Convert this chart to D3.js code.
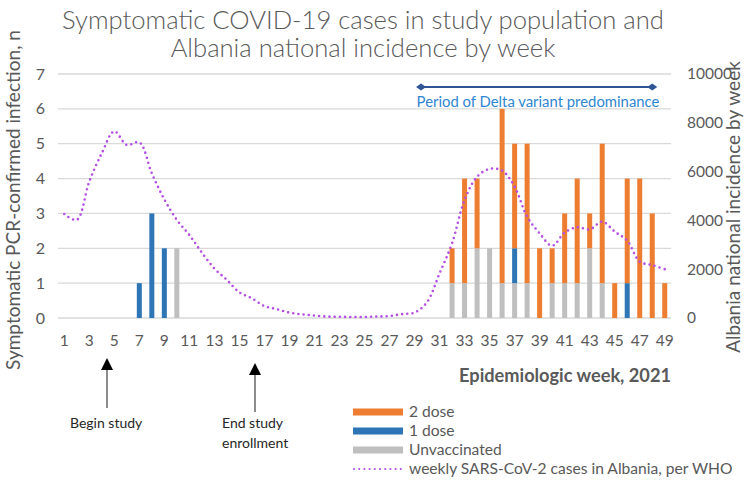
<!DOCTYPE html>
<html>
<head>
<meta charset="utf-8">
<script src="https://cdn.jsdelivr.net/npm/d3@7"></script>
<style>
  html, body { margin: 0; padding: 0; background: #fff; }
  svg { display: block; font-family: Lato, "Open Sans", sans-serif; }
</style>
</head>
<body>
<svg id="chart" width="750" height="480"></svg>
<script>
const weeks = d3.range(1, 50);
const xTickLabels = d3.range(1, 50, 2);
const leftTicks = [0, 1, 2, 3, 4, 5, 6, 7];
const rightTicks = [0, 2000, 4000, 6000, 8000, 10000];

// cases by vaccination status per week (weeks 1..49)
const unvaccinated = [0,0,0,0,0,0,0,0,0,2, 0,0,0,0,0,0,0,0,0,0, 0,0,0,0,0,0,0,0,0,0, 0,1,1,2,2,1,1,1,0,1, 1,1,2,1,0,0,0,0,0];
const oneDose      = [0,0,0,0,0,0,1,3,2,0, 0,0,0,0,0,0,0,0,0,0, 0,0,0,0,0,0,0,0,0,0, 0,0,0,0,0,0,1,0,0,0, 0,0,0,0,0,1,0,0,0];
const twoDose      = [0,0,0,0,0,0,0,0,0,0, 0,0,0,0,0,0,0,0,0,0, 0,0,0,0,0,0,0,0,0,0, 0,1,3,2,0,5,3,4,2,1, 2,3,1,4,1,3,4,3,1];

// weekly national cases (WHO)
const nationalCases = [4260,4020,5590,6750,7650,7090,7200,5930,4860,4020,
  3400,2680,2030,1560,1050,810,490,360,220,150,
  100,60,50,40,40,60,80,160,220,650,
  1830,3060,4840,5790,6110,6040,5380,4150,3470,2960,
  3500,3720,3630,3950,3540,3170,2310,2170,2000];

const seriesNames = ["Unvaccinated", "1 dose", "2 dose"];
const seriesColors = ["#BFBFBF", "#2E75B6", "#ED7D31"];

const svg = d3.select("#chart");
const plot = { left: 58, right: 671, top: 74, bottom: 318 };

const x = d3.scaleBand().domain(weeks).range([plot.left, plot.right]).paddingInner(0.6).paddingOuter(0.3);
const yL = d3.scaleLinear().domain([0, 7]).range([plot.bottom, plot.top]);
const yR = d3.scaleLinear().domain([0, 10000]).range([plot.bottom, plot.top]);

const textColor = "#595959";

// scale a text's font-size so that it spans the target length
function fit(sel, target) {
  const n = sel.node();
  const fs = parseFloat(sel.style("font-size"));
  const len = n.getComputedTextLength();
  if (len > 0) sel.style("font-size", (fs * target / len).toFixed(2) + "px");
  return sel;
}

// gridlines
svg.append("g").selectAll("line").data(leftTicks).join("line")
  .attr("x1", plot.left).attr("x2", plot.right)
  .attr("y1", d => yL(d)).attr("y2", d => yL(d))
  .attr("stroke", "#D9D9D9").attr("stroke-width", 1.3);

// left axis
const leftAxis = svg.append("g").attr("transform", `translate(${plot.left},0)`)
  .call(d3.axisLeft(yL).tickValues(leftTicks).tickFormat(d3.format("d")).tickSize(0).tickPadding(13));
leftAxis.select(".domain").remove();
leftAxis.selectAll("text").attr("fill", textColor).style("font-size", "16px").style("font-family", "Lato, sans-serif");

// right axis
const rightAxis = svg.append("g").attr("transform", `translate(${plot.right},0)`)
  .call(d3.axisRight(yR).tickValues(rightTicks).tickFormat(d3.format("d")).tickSize(0).tickPadding(16));
rightAxis.select(".domain").remove();
rightAxis.selectAll("text").attr("fill", textColor).style("font-size", "15.5px").style("font-family", "Lato, sans-serif");

// bottom axis
const bottomAxis = svg.append("g").attr("transform", `translate(0,${plot.bottom})`)
  .call(d3.axisBottom(x).tickValues(xTickLabels).tickSize(0).tickPadding(17));
bottomAxis.select(".domain").remove();
bottomAxis.selectAll("text").attr("fill", textColor).style("font-size", "15.5px").style("font-family", "Lato, sans-serif");

// stacked bars
const table = weeks.map((w, i) => ({ week: w, "Unvaccinated": unvaccinated[i], "1 dose": oneDose[i], "2 dose": twoDose[i] }));
const stack = d3.stack().keys(seriesNames)(table);
svg.append("g").selectAll("g").data(stack).join("g")
  .attr("fill", (d, i) => seriesColors[i])
  .selectAll("rect").data(d => d.filter(s => s[1] > s[0])).join("rect")
  .attr("x", d => x(d.data.week))
  .attr("width", x.bandwidth())
  .attr("y", d => yL(d[1]))
  .attr("height", d => yL(d[0]) - yL(d[1]));

// national line
const line = d3.line()
  .x((d, i) => x(weeks[i]) + x.bandwidth() / 2)
  .y(d => yR(d))
  .curve(d3.curveCatmullRom.alpha(0.5));
svg.append("path").datum(nationalCases)
  .attr("d", line)
  .attr("fill", "none")
  .attr("stroke", "#B44FE3")
  .attr("stroke-width", 2.6)
  .attr("stroke-linecap", "round")
  .attr("stroke-dasharray", "0 5.2");

// title
const t1 = svg.append("text").attr("x", 363).attr("y", 29).attr("text-anchor", "middle")
  .attr("fill", textColor).style("font-size", "24px").style("font-weight", 300)
  .text("Symptomatic COVID-19 cases in study population and");
fit(t1, 602);
const fsTitle = t1.style("font-size");
svg.append("text").attr("x", 363).attr("y", 57).attr("text-anchor", "middle")
  .attr("fill", textColor).style("font-size", fsTitle).style("font-weight", 300)
  .text("Albania national incidence by week");

// axis titles
const yl = svg.append("text").attr("transform", "translate(20,200) rotate(-90)")
  .attr("text-anchor", "middle").attr("fill", textColor).style("font-size", "17px")
  .text("Symptomatic PCR-confirmed infection, n");
fit(yl, 340);
const yr = svg.append("text").attr("transform", "translate(740,207) rotate(-90)")
  .attr("text-anchor", "middle").attr("fill", textColor).style("font-size", "17px")
  .text("Albania national incidence by week");
fit(yr, 292);
const xt = svg.append("text").attr("x", 671).attr("y", 382).attr("text-anchor", "end")
  .attr("fill", textColor).style("font-size", "17px").style("font-weight", 700)
  .text("Epidemiologic week, 2021");
fit(xt, 212);

// delta period annotation
const deltaY = 87;
const dx1 = x(30) + x.bandwidth() / 2 - 6, dx2 = x(48) + x.bandwidth() / 2;
svg.append("line").attr("x1", dx1).attr("x2", dx2).attr("y1", deltaY).attr("y2", deltaY)
  .attr("stroke", "#2F5597").attr("stroke-width", 2);
[dx1, dx2].forEach(px => {
  svg.append("path").attr("d", `M${px - 5},${deltaY} L${px},${deltaY - 3.5} L${px + 5},${deltaY} L${px},${deltaY + 3.5} Z`)
    .attr("fill", "#2F5597");
});
const dt = svg.append("text").attr("x", 538).attr("y", 107).attr("text-anchor", "middle")
  .attr("fill", "#2E86D1").style("font-size", "14px")
  .text("Period of Delta variant predominance");
fit(dt, 243);

// arrows
function arrow(px, yTop, yBot) {
  svg.append("line").attr("x1", px).attr("x2", px).attr("y1", yTop + 10).attr("y2", yBot)
    .attr("stroke", "#404040").attr("stroke-width", 1.2);
  svg.append("path").attr("d", `M${px - 6},${yTop + 12} L${px},${yTop} L${px + 6},${yTop + 12} Z`).attr("fill", "#000");
}
arrow(107, 358, 408);
arrow(255, 363, 412);
svg.append("text").attr("x", 70).attr("y", 428).attr("fill", "#262626").style("font-size", "14px").text("Begin study");
const endTxt = svg.append("text").attr("fill", "#262626").style("font-size", "14px");
endTxt.append("tspan").attr("x", 222).attr("y", 428).text("End study");
endTxt.append("tspan").attr("x", 222).attr("y", 448).text("enrollment");

// legend
const legendItems = [
  { name: "2 dose", color: "#ED7D31", type: "rect" },
  { name: "1 dose", color: "#2E75B6", type: "rect" },
  { name: "Unvaccinated", color: "#BFBFBF", type: "rect" },
  { name: "weekly SARS-CoV-2 cases in Albania, per WHO", color: "#B44FE3", type: "line" }
];
const lg = svg.append("g").attr("transform", "translate(353,412)");
legendItems.forEach((d, i) => {
  const g = lg.append("g").attr("transform", `translate(0,${i * 19})`);
  if (d.type === "rect") {
    g.append("rect").attr("x", 0).attr("y", -3.5).attr("width", 50).attr("height", 7).attr("fill", d.color);
  } else {
    g.append("line").attr("x1", 1).attr("x2", 50).attr("y1", 0).attr("y2", 0)
      .attr("stroke", d.color).attr("stroke-width", 2.2).attr("stroke-linecap", "round").attr("stroke-dasharray", "0 5.2");
  }
  g.append("text").attr("x", 56).attr("y", 0).attr("dy", "0.35em")
    .attr("fill", textColor).style("font-size", "15.6px").text(d.name);
});
</script>
</body>
</html>
